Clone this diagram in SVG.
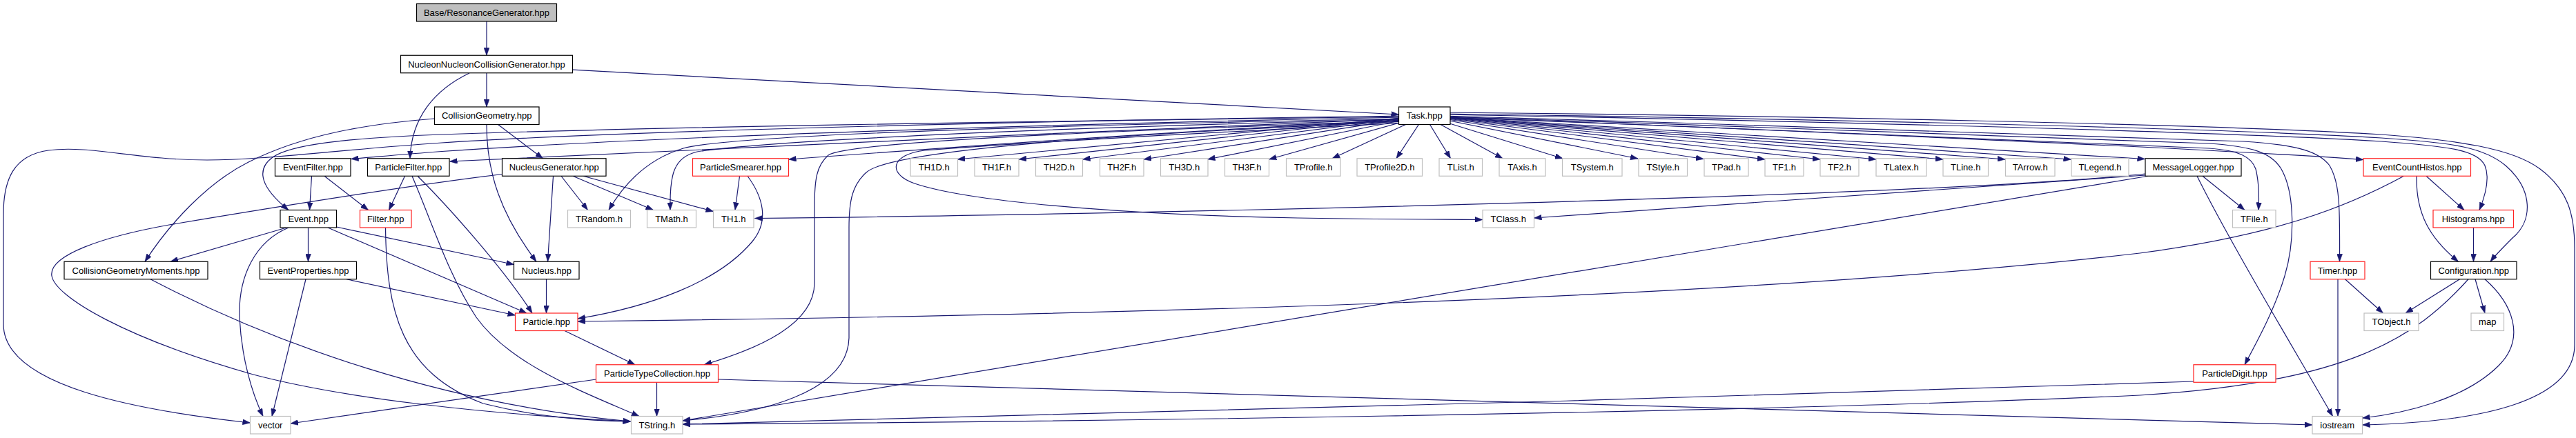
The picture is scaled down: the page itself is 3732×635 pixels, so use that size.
<svg xmlns="http://www.w3.org/2000/svg" width="3732" height="635" viewBox="0 0 3732 635">
<style>
.e{fill:none;stroke:#191970;stroke-width:1.2;marker-end:url(#a)}
.k{fill:#fff;stroke:#000;stroke-width:1.2}
.r{fill:#fff;stroke:#ff2020;stroke-width:1.2}
.g{fill:#fff;stroke:#bfbfbf;stroke-width:1.2}
.b{fill:#bfbfbf;stroke:#000;stroke-width:1.2}
text{font-family:"Liberation Sans",Arial,Helvetica,sans-serif;font-size:13px;text-anchor:middle;fill:#000}
</style>
<defs>
<marker id="a" markerUnits="userSpaceOnUse" markerWidth="11" markerHeight="8" refX="11" refY="4" orient="auto" viewBox="0 0 11 8"><path d="M0,0 L11,4 L0,8 z" fill="#191970" stroke="#191970" stroke-width="0.5"/></marker>
</defs>
<rect width="3732" height="635" fill="#fff"/>
<g id="connectors">
<path class="e" d="M705,31 L705,80.25"/>
<path class="e" d="M705,105.75 L705,155"/>
<path class="e" d="M829.5,101.2 L2026.5,166"/>
<path class="e" d="M680,106 C630,130 596,170 594,229.75"/>
<path class="e" d="M721.5,180.5 L786.5,229.75"/>
<path class="e" d="M705,180.5 C705,250 725,310 777,379.25"/>
<path class="e" d="M629.5,172 C530,180 440,195 360,235 C300,265 245,325 210,379.25"/>
<path class="e" d="M2063.75,167.75 L1387,231"/>
<path class="e" d="M2063.75,167.75 L1476,231"/>
<path class="e" d="M2063.75,167.75 L1568.5,231"/>
<path class="e" d="M2063.75,167.75 L1657,231"/>
<path class="e" d="M2063.75,167.75 L1749.5,231"/>
<path class="e" d="M2063.75,167.75 L1838.5,231"/>
<path class="e" d="M2063.75,167.75 L1930,229.75"/>
<path class="e" d="M2063.75,167.75 L2023,229.75"/>
<path class="e" d="M2063.75,167.75 L2101.5,229.75"/>
<path class="e" d="M2063.75,167.75 L2177,229.75"/>
<path class="e" d="M2063.75,167.75 L2264,229.75"/>
<path class="e" d="M2063.75,167.75 L2373,230"/>
<path class="e" d="M2063.75,167.75 L2468,230.5"/>
<path class="e" d="M2063.75,167.75 L2557,231"/>
<path class="e" d="M2063.75,167.75 L2637,231"/>
<path class="e" d="M2063.75,167.75 L2718,231"/>
<path class="e" d="M2063.75,167.75 L2815,231"/>
<path class="e" d="M2063.75,167.75 L2905,231"/>
<path class="e" d="M2063.75,167.75 L3000.5,231"/>
<path class="e" d="M2063.75,167.75 L3107.5,230.5"/>
<path class="e" d="M2063.75,167.75 C2600,190 3200,215 3424,231.5"/>
<path class="e" d="M2035,170 C1600,178 1000,195 640,219.5 C580,224 540,228 508.5,230.5"/>
<path class="e" d="M2035,172 C1600,190 1000,216 651.5,234"/>
<path class="e" d="M2035,169 C1600,175 1000,182 640,195 C500,200 420,210 395,228 C370,246 378,272 418,304.5"/>
<path class="e" d="M2035,168 C1500,175 900,190 640,207 C480,218 380,232 300,232 C200,232 130,210 70,218 C20,225 5,260 5,310 L5,470 C5,560 200,595 362.5,613"/>
<path class="e" d="M2035,174 C1700,190 1400,212 1142.5,231"/>
<path class="e" d="M2035,172 C1500,182 1060,196 990,215 C940,230 905,265 882,304.5"/>
<path class="e" d="M2035,173 C1500,185 1100,205 1010,220 C975,228 970,255 971,304.5"/>
<path class="e" d="M2035,176 C1600,195 1290,218 1255,250 C1235,268 1230,290 1230,330 L1230,490 C1228,570 1100,600 989,610"/>
<path class="e" d="M2035,175 C1600,190 1230,205 1200,225 C1183,240 1180,260 1180,300 L1180,410 C1180,470 1100,505 1020,528.75"/>
<path class="e" d="M2035,178 C1800,190 1500,205 1340,218 C1290,224 1285,252 1325,266 C1420,298 1700,313 1880,316 C2000,318 2090,318 2148,318.5"/>
<path class="e" d="M2090,163 C2600,168 3200,180 3450,195 C3560,203 3640,215 3680,245 C3720,275 3730,310 3730,360 L3730,500 C3730,580 3600,612 3422.5,616"/>
<path class="e" d="M2090,165 C2600,172 3200,185 3450,200 C3560,207 3600,215 3630,240 C3670,275 3670,320 3640,345 C3625,360 3615,370 3608,379.25"/>
<path class="e" d="M2090,166 C2600,175 3200,190 3450,205 C3550,212 3590,218 3600,240 C3608,260 3600,285 3592,304.5"/>
<path class="e" d="M2090,168 C2500,180 3000,195 3250,205 C3330,210 3360,220 3375,240 C3390,265 3390,300 3389.5,379.25"/>
<path class="e" d="M2090,169 C2500,182 3000,200 3200,208 C3260,212 3290,220 3305,245 C3325,280 3325,350 3310,400 C3295,450 3270,495 3252,528.75"/>
<path class="e" d="M2090,170 C2500,185 3000,205 3200,215 C3245,218 3262,228 3268,245 C3273,265 3273,285 3272,304.5"/>
<path class="e" d="M813,255.25 L851.5,304.5"/>
<path class="e" d="M830,255.25 L946.5,304.5"/>
<path class="e" d="M845,255.25 L1033.5,306.5"/>
<path class="e" d="M801.5,255.25 L793.5,379.25"/>
<path class="e" d="M727.5,252.5 C600,268 400,300 245,326 C150,343 70,370 75,400 C80,430 180,490 367,543 C500,578 700,600 913.5,611"/>
<path class="e" d="M1071.5,255.25 L1065,304.5"/>
<path class="e" d="M1083,255.25 C1105,285 1115,320 1090,350 C1040,410 940,445 837,462"/>
<path class="e" d="M586.5,255.25 L563.5,304.5"/>
<path class="e" d="M605,255.25 C650,300 730,390 771,454"/>
<path class="e" d="M597,255.25 C625,320 650,400 690,460 C740,530 850,570 926,603.5"/>
<path class="e" d="M451.5,255.25 L448.5,304.5"/>
<path class="e" d="M470,255.25 L533.5,304.5"/>
<path class="e" d="M558.5,330 C560,450 580,540 700,585 C780,605 850,610 913.5,611"/>
<path class="e" d="M415,330 L247,379.25"/>
<path class="e" d="M446.5,330 L446.5,379.25"/>
<path class="e" d="M418,330 C370,350 345,400 347,460 C350,520 365,570 381,603.5"/>
<path class="e" d="M487.5,329 L744.5,383.5"/>
<path class="e" d="M475,330 L763,454"/>
<path class="e" d="M502,404.75 L746.5,457"/>
<path class="e" d="M443,404.75 L394,603.5"/>
<path class="e" d="M218,404.75 C400,500 640,585 913.5,611"/>
<path class="e" d="M791.5,404.75 L791.5,454"/>
<path class="e" d="M818,479.5 L920,528.75"/>
<path class="e" d="M951.5,554.25 L951.5,603.5"/>
<path class="e" d="M863.5,550 L421,614"/>
<path class="e" d="M1040.5,550 L3350,616"/>
<path class="e" d="M3178,553 C2500,575 1500,605 989,615"/>
<path class="e" d="M3576,404.75 C3500,490 3400,555 3100,573 C2500,600 1500,612 989,615"/>
<path class="e" d="M3108,252 C2800,285 1600,312 1093.5,316.5"/>
<path class="e" d="M3108,254 L2222.5,316"/>
<path class="e" d="M3112,255.25 L989,610"/>
<path class="e" d="M3191,255.25 L3252,304.5"/>
<path class="e" d="M3183,255.25 C3230,350 3320,500 3379.5,603.5"/>
<path class="e" d="M3515,255.25 L3570,304.5"/>
<path class="e" d="M3501,255.25 C3500,310 3520,345 3561.5,379.25"/>
<path class="e" d="M3482.5,255.25 C3400,300 3300,340 3100,367 C2600,425 1800,455 837,466"/>
<path class="e" d="M3583.5,330 L3583.5,379.25"/>
<path class="e" d="M3397.5,404.75 L3452.5,454"/>
<path class="e" d="M3387,404.75 L3387,603.5"/>
<path class="e" d="M3563.5,404.75 L3485,454"/>
<path class="e" d="M3586,404.75 L3600,454"/>
<path class="e" d="M3600,404.75 C3640,440 3660,490 3620,530 C3570,580 3480,600 3422.5,606"/>
</g>
<g id="n_base"><rect class="b" x="603.5" y="5.5" width="203" height="25.5"/><text x="705" y="22.75">Base/ResonanceGenerator.hpp</text></g>
<g id="n_nncg"><rect class="k" x="580.5" y="80.25" width="249" height="25.5"/><text x="705" y="97.5">NucleonNucleonCollisionGenerator.hpp</text></g>
<g id="n_cg"><rect class="k" x="629.5" y="155" width="151.5" height="25.5"/><text x="705.25" y="172.25">CollisionGeometry.hpp</text></g>
<g id="n_task"><rect class="k" x="2026.5" y="155" width="74.5" height="25.5"/><text x="2063.75" y="172.25">Task.hpp</text></g>
<g id="n_eventfilter"><rect class="k" x="398.5" y="229.75" width="109.5" height="25.5"/><text x="453.25" y="247">EventFilter.hpp</text></g>
<g id="n_particlefilter"><rect class="k" x="532.5" y="229.75" width="118.5" height="25.5"/><text x="591.75" y="247">ParticleFilter.hpp</text></g>
<g id="n_nucleusgen"><rect class="k" x="727.5" y="229.75" width="150.5" height="25.5"/><text x="802.75" y="247">NucleusGenerator.hpp</text></g>
<g id="n_smearer"><rect class="r" x="1003.5" y="229.75" width="139" height="25.5"/><text x="1073" y="247">ParticleSmearer.hpp</text></g>
<g id="n_th1d"><rect class="g" x="1319" y="229.75" width="68.5" height="25.5"/><text x="1353.25" y="247">TH1D.h</text></g>
<g id="n_th1f"><rect class="g" x="1412" y="229.75" width="64" height="25.5"/><text x="1444" y="247">TH1F.h</text></g>
<g id="n_th2d"><rect class="g" x="1500.5" y="229.75" width="68" height="25.5"/><text x="1534.5" y="247">TH2D.h</text></g>
<g id="n_th2f"><rect class="g" x="1593.5" y="229.75" width="63.5" height="25.5"/><text x="1625.25" y="247">TH2F.h</text></g>
<g id="n_th3d"><rect class="g" x="1681.5" y="229.75" width="68.5" height="25.5"/><text x="1715.75" y="247">TH3D.h</text></g>
<g id="n_th3f"><rect class="g" x="1774.5" y="229.75" width="64" height="25.5"/><text x="1806.5" y="247">TH3F.h</text></g>
<g id="n_tprofile"><rect class="g" x="1863.5" y="229.75" width="78.5" height="25.5"/><text x="1902.75" y="247">TProfile.h</text></g>
<g id="n_tprofile2d"><rect class="g" x="1966" y="229.75" width="94.5" height="25.5"/><text x="2013.25" y="247">TProfile2D.h</text></g>
<g id="n_tlist"><rect class="g" x="2085" y="229.75" width="62.5" height="25.5"/><text x="2116.25" y="247">TList.h</text></g>
<g id="n_taxis"><rect class="g" x="2172" y="229.75" width="67" height="25.5"/><text x="2205.5" y="247">TAxis.h</text></g>
<g id="n_tsystem"><rect class="g" x="2263.5" y="229.75" width="86.5" height="25.5"/><text x="2306.75" y="247">TSystem.h</text></g>
<g id="n_tstyle"><rect class="g" x="2374" y="229.75" width="70.5" height="25.5"/><text x="2409.25" y="247">TStyle.h</text></g>
<g id="n_tpad"><rect class="g" x="2469" y="229.75" width="64" height="25.5"/><text x="2501" y="247">TPad.h</text></g>
<g id="n_tf1"><rect class="g" x="2557" y="229.75" width="56" height="25.5"/><text x="2585" y="247">TF1.h</text></g>
<g id="n_tf2"><rect class="g" x="2637" y="229.75" width="56" height="25.5"/><text x="2665" y="247">TF2.h</text></g>
<g id="n_tlatex"><rect class="g" x="2718" y="229.75" width="73" height="25.5"/><text x="2754.5" y="247">TLatex.h</text></g>
<g id="n_tline"><rect class="g" x="2815" y="229.75" width="65.5" height="25.5"/><text x="2847.75" y="247">TLine.h</text></g>
<g id="n_tarrow"><rect class="g" x="2905.5" y="229.75" width="71.5" height="25.5"/><text x="2941.25" y="247">TArrow.h</text></g>
<g id="n_tlegend"><rect class="g" x="3001" y="229.75" width="83" height="25.5"/><text x="3042.5" y="247">TLegend.h</text></g>
<g id="n_msglogger"><rect class="k" x="3108" y="229.75" width="139" height="25.5"/><text x="3177.5" y="247">MessageLogger.hpp</text></g>
<g id="n_ech"><rect class="r" x="3424" y="229.75" width="155.5" height="25.5"/><text x="3501.75" y="247">EventCountHistos.hpp</text></g>
<g id="n_event"><rect class="k" x="406" y="304.5" width="81.5" height="25.5"/><text x="446.75" y="321.75">Event.hpp</text></g>
<g id="n_filter"><rect class="r" x="521.5" y="304.5" width="74.5" height="25.5"/><text x="558.75" y="321.75">Filter.hpp</text></g>
<g id="n_trandom"><rect class="g" x="822.5" y="304.5" width="91" height="25.5"/><text x="868" y="321.75">TRandom.h</text></g>
<g id="n_tmath"><rect class="g" x="937.5" y="304.5" width="71" height="25.5"/><text x="973" y="321.75">TMath.h</text></g>
<g id="n_th1"><rect class="g" x="1033.5" y="304.5" width="58.5" height="25.5"/><text x="1062.75" y="321.75">TH1.h</text></g>
<g id="n_tclass"><rect class="g" x="2148" y="304.5" width="74.5" height="25.5"/><text x="2185.25" y="321.75">TClass.h</text></g>
<g id="n_tfile"><rect class="g" x="3234.5" y="304.5" width="62.5" height="25.5"/><text x="3265.75" y="321.75">TFile.h</text></g>
<g id="n_histograms"><rect class="r" x="3525" y="304.5" width="116.5" height="25.5"/><text x="3583.25" y="321.75">Histograms.hpp</text></g>
<g id="n_cgm"><rect class="k" x="93" y="379.25" width="208" height="25.5"/><text x="197" y="396.5">CollisionGeometryMoments.hpp</text></g>
<g id="n_eventprops"><rect class="k" x="376.5" y="379.25" width="140" height="25.5"/><text x="446.5" y="396.5">EventProperties.hpp</text></g>
<g id="n_nucleus"><rect class="k" x="744.5" y="379.25" width="94.5" height="25.5"/><text x="791.75" y="396.5">Nucleus.hpp</text></g>
<g id="n_timer"><rect class="r" x="3347" y="379.25" width="79" height="25.5"/><text x="3386.5" y="396.5">Timer.hpp</text></g>
<g id="n_config"><rect class="k" x="3521.5" y="379.25" width="124.5" height="25.5"/><text x="3583.75" y="396.5">Configuration.hpp</text></g>
<g id="n_particle"><rect class="r" x="746.5" y="454" width="90.5" height="25.5"/><text x="791.75" y="471.25">Particle.hpp</text></g>
<g id="n_tobject"><rect class="g" x="3425" y="454" width="79" height="25.5"/><text x="3464.5" y="471.25">TObject.h</text></g>
<g id="n_map"><rect class="g" x="3580" y="454" width="47.5" height="25.5"/><text x="3603.75" y="471.25">map</text></g>
<g id="n_ptc"><rect class="r" x="863.5" y="528.75" width="177" height="25.5"/><text x="952" y="546">ParticleTypeCollection.hpp</text></g>
<g id="n_pdigit"><rect class="r" x="3178" y="528.75" width="119" height="25.5"/><text x="3237.5" y="546">ParticleDigit.hpp</text></g>
<g id="n_vector"><rect class="g" x="362.5" y="603.5" width="58.5" height="25.5"/><text x="391.75" y="620.75">vector</text></g>
<g id="n_tstring"><rect class="g" x="914.5" y="603.5" width="74.5" height="25.5"/><text x="951.75" y="620.75">TString.h</text></g>
<g id="n_iostream"><rect class="g" x="3350" y="603.5" width="72.5" height="25.5"/><text x="3386.25" y="620.75">iostream</text></g>
</svg>
